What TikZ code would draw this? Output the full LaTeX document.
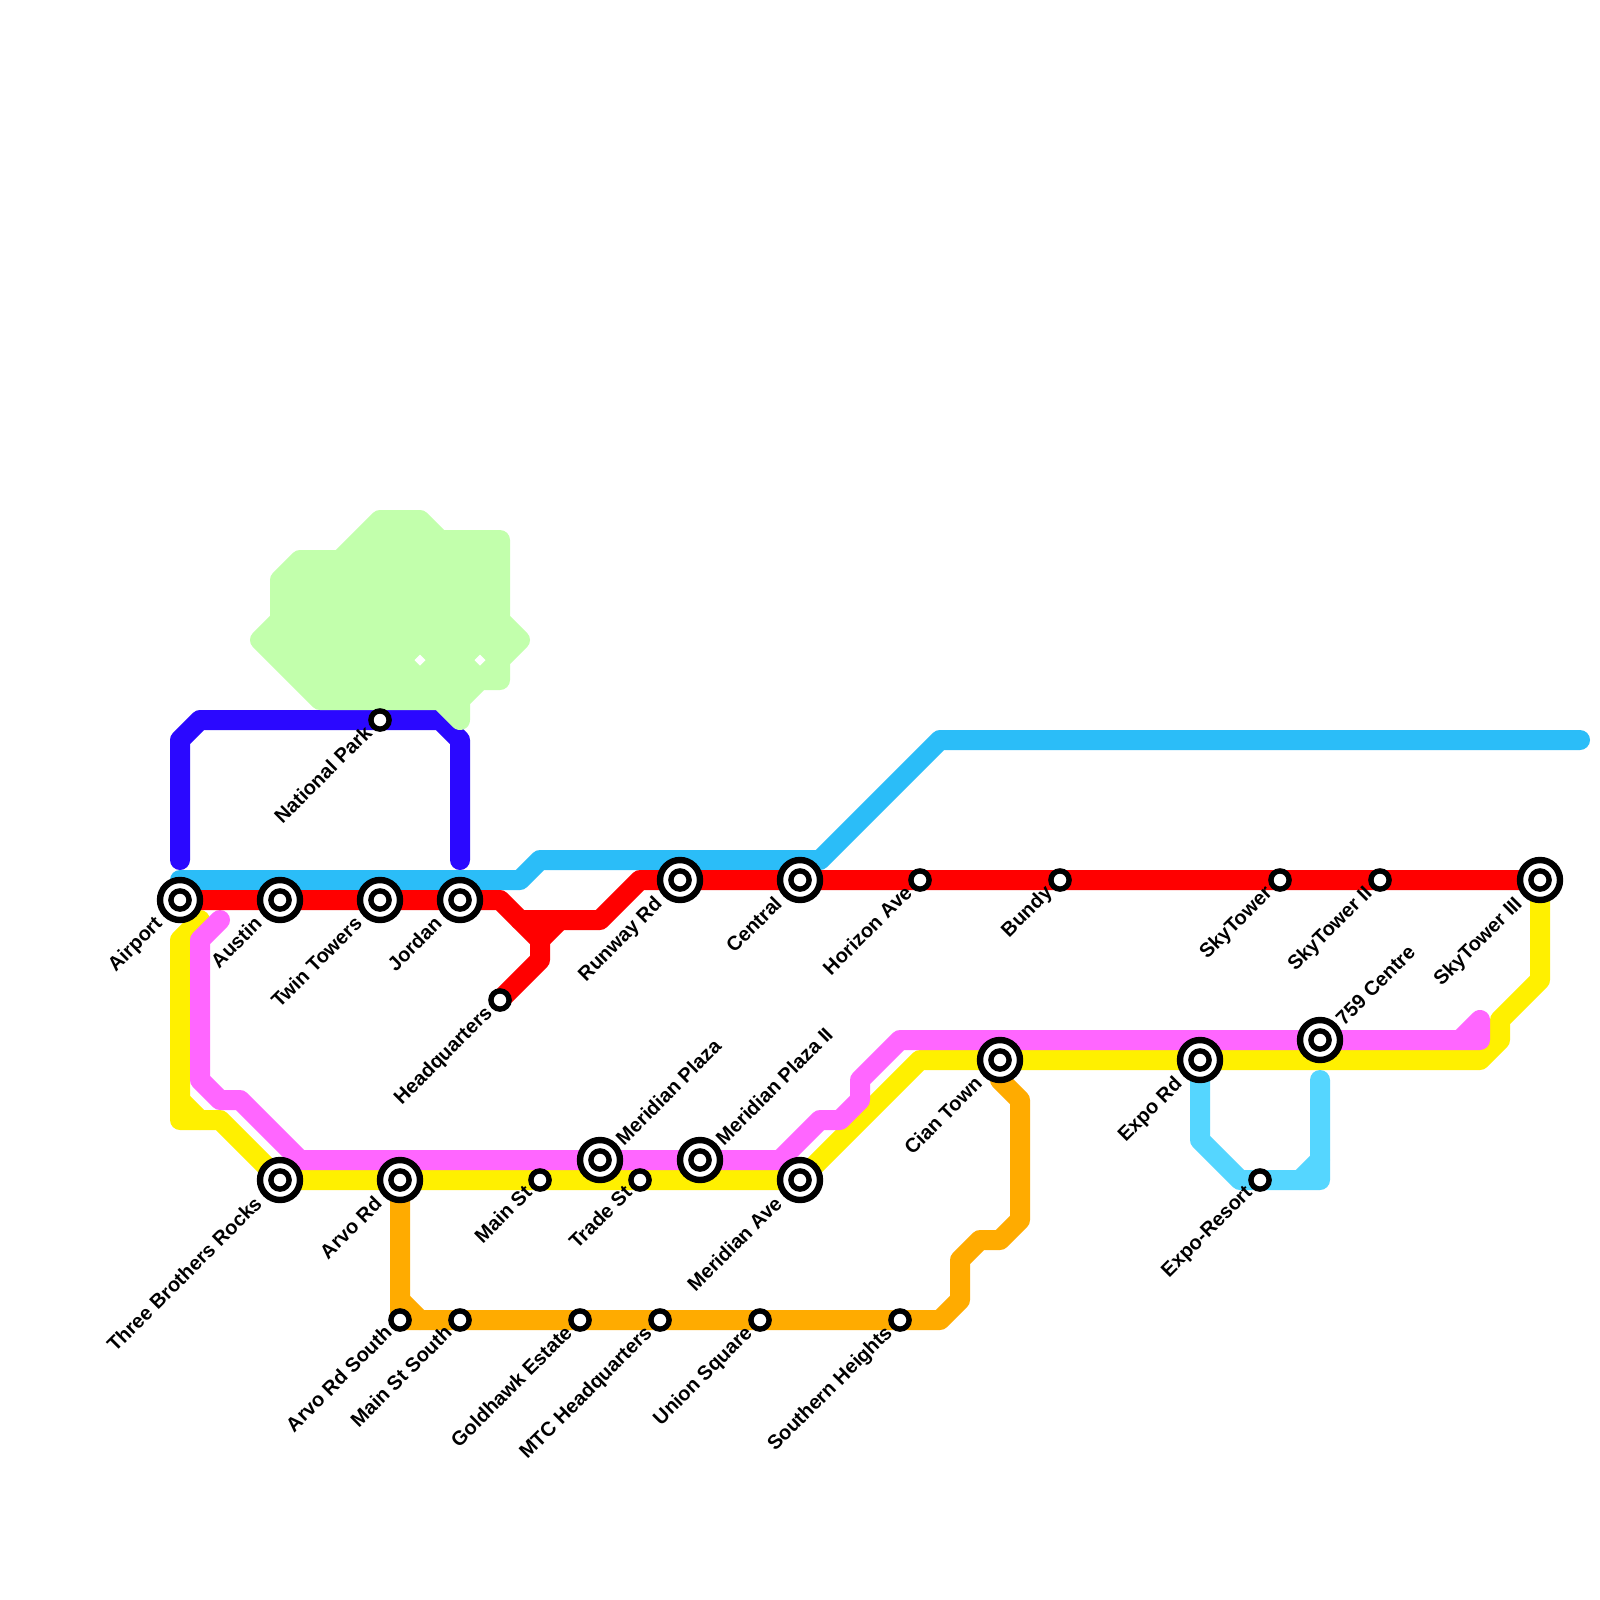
\documentclass[tikz,border=0pt]{standalone}
\usepackage{fontspec}
\setmainfont{Liberation Sans}
\definecolor{lred}{HTML}{FF0000}
\definecolor{lsky}{HTML}{2BBDF8}
\definecolor{lyellow}{HTML}{FFF000}
\definecolor{lpink}{HTML}{FF66FF}
\definecolor{lorange}{HTML}{FFAB00}
\definecolor{lblue}{HTML}{2B08FF}
\definecolor{lcyan}{HTML}{55D6FF}
\definecolor{lgreen}{HTML}{C2FFAC}
\tikzset{
  route/.style={line width=20pt,line cap=round,line join=round},
  park/.style={draw=lgreen,fill=lgreen,line width=20pt,line join=round},
  hole/.style={fill=white,draw=none},
  ringouter/.style={draw=black,fill=white,line width=6.4pt},
  ringinner/.style={draw=black,fill=white,line width=5.4pt},
  stnlabel/.style={font=\bfseries\fontsize{20pt}{22pt}\selectfont,text=black,inner sep=0pt,outer sep=0pt,rotate=45,text height=14.5pt,text depth=0pt},
  lsw/.style={stnlabel,anchor=east},
  lne/.style={stnlabel,anchor=west}
}
\newcommand{\stnBig}[1]{\path[ringouter] (#1) circle[radius=20pt]; \path[ringinner] (#1) circle[radius=9.1pt];}
\newcommand{\stnSmall}[1]{\path[ringinner] (#1) circle[radius=9.1pt];}
\begin{document}
\begin{tikzpicture}[x=1pt,y=-1pt]
\path[use as bounding box,fill=white] (0,0) rectangle (1600,1600);
% stations
\coordinate (airport) at (180,900);
\coordinate (austin) at (280,900);
\coordinate (twin) at (380,900);
\coordinate (jordan) at (460,900);
\coordinate (runway) at (680,880);
\coordinate (central) at (800,880);
\coordinate (sky3) at (1540,880);
\coordinate (three) at (280,1180);
\coordinate (arvo) at (400,1180);
\coordinate (mplaza) at (600,1160);
\coordinate (mplaza2) at (700,1160);
\coordinate (mave) at (800,1180);
\coordinate (cian) at (1000,1060);
\coordinate (expo) at (1200,1060);
\coordinate (c759) at (1320,1040);
\coordinate (natpark) at (380,720);
\coordinate (hq) at (500,1000);
\coordinate (mainst) at (540,1180);
\coordinate (trade) at (640,1180);
\coordinate (horizon) at (920,880);
\coordinate (bundy) at (1060,880);
\coordinate (sky1) at (1280,880);
\coordinate (sky2) at (1380,880);
\coordinate (arvos) at (400,1320);
\coordinate (mainsts) at (460,1320);
\coordinate (gold) at (580,1320);
\coordinate (mtc) at (660,1320);
\coordinate (union) at (760,1320);
\coordinate (south) at (900,1320);
\coordinate (resort) at (1260,1180);
% lines
\draw[route,lblue] (180,860) -- (180,740) -- (200,720) -- (natpark) -- (440,720) -- (460,740) -- (460,860);
% park
\path[park] (260,640) -- (280,620) -- (280,580) -- (300,560) -- (340,560) -- (380,520) -- (420,520) -- (440,540) -- (500,540) -- (500,620) -- (520,640) -- (500,660) -- (500,680) -- (480,680) -- (460,700) -- (460,720) -- (440,700) -- (320,700) -- cycle;
\fill[hole] (420,654.5) -- (425.5,660) -- (420,665.5) -- (414.5,660) -- cycle;
\fill[hole] (480,654.5) -- (485.5,660) -- (480,665.5) -- (474.5,660) -- cycle;
\draw[route,lsky] (180,880) -- (520,880) -- (540,860) -- (820,860) -- (940,740) -- (1580,740);
\draw[route,lyellow] (200,920) -- (180,940) -- (180,1120) -- (220,1120) -- (three) -- (arvo) -- (mainst) -- (trade) -- (mave) -- (920,1060) -- (cian) -- (expo) -- (1480,1060) -- (1500,1040) -- (1500,1020) -- (1540,980) -- (sky3);
\draw[route,lyellow] (180,1100) -- (200,1120);
\draw[route,lpink] (220,920) -- (200,940) -- (200,1080) -- (220,1100) -- (240,1100) -- (300,1160) -- (mplaza) -- (mplaza2) -- (780,1160) -- (820,1120) -- (840,1120) -- (860,1100) -- (860,1080) -- (900,1040) -- (c759) -- (1480,1040) -- (1480,1020) -- (1460,1040);
\draw[route,lred] (airport) -- (austin) -- (twin) -- (jordan) -- (500,900) -- (540,940) -- (540,960) -- (hq);
\draw[route,lred] (520,920) -- (600,920) -- (640,880) -- (runway) -- (central) -- (horizon) -- (bundy) -- (sky1) -- (sky2) -- (sky3);
\draw[route,lred] (540,940) -- (560,920);
\draw[route,lorange] (arvo) -- (arvos) -- (mainsts) -- (gold) -- (mtc) -- (union) -- (south) -- (940,1320) -- (960,1300) -- (960,1260) -- (980,1240) -- (1000,1240) -- (1020,1220) -- (1020,1100) -- (1000,1080) -- (cian);
\draw[route,lorange] (400,1300) -- (420,1320);
\draw[route,lcyan] (expo) -- (1200,1140) -- (1240,1180) -- (resort) -- (1320,1180) -- (1320,1080);
\draw[route,lcyan] (1300,1180) -- (1320,1160);
% station symbols
\stnBig{airport}\stnBig{austin}\stnBig{twin}\stnBig{jordan}\stnBig{runway}\stnBig{central}\stnBig{sky3}
\stnBig{three}\stnBig{arvo}\stnBig{mplaza}\stnBig{mplaza2}\stnBig{mave}\stnBig{cian}\stnBig{expo}\stnBig{c759}
\stnSmall{natpark}\stnSmall{hq}\stnSmall{mainst}\stnSmall{trade}\stnSmall{horizon}\stnSmall{bundy}\stnSmall{sky1}\stnSmall{sky2}
\stnSmall{arvos}\stnSmall{mainsts}\stnSmall{gold}\stnSmall{mtc}\stnSmall{union}\stnSmall{south}\stnSmall{resort}
% labels
\node[lsw] (t-airport) at ([shift={(-22,20)}]airport) {Airport};
\node[lsw] (t-austin) at ([shift={(-22,20)}]austin) {Austin};
\node[lsw] (t-twin) at ([shift={(-22,20)}]twin) {Twin Towers};
\node[lsw] (t-jordan) at ([shift={(-22,20)}]jordan) {Jordan};
\node[lsw] (t-runway) at ([shift={(-22,20)}]runway) {Runway Rd};
\node[lsw] (t-central) at ([shift={(-22,20)}]central) {Central};
\node[lsw] (t-sky3) at ([shift={(-22,20)}]sky3) {SkyTower III};
\node[lsw] (t-three) at ([shift={(-22,20)}]three) {Three Brothers Rocks};
\node[lsw] (t-arvo) at ([shift={(-22,20)}]arvo) {Arvo Rd};
\node[lsw] (t-mave) at ([shift={(-22,20)}]mave) {Meridian Ave};
\node[lsw] (t-cian) at ([shift={(-22,20)}]cian) {Cian Town};
\node[lsw] (t-expo) at ([shift={(-22,20)}]expo) {Expo Rd};
\node[lne] (t-mplaza) at ([shift={(19,-19)}]mplaza) {Meridian Plaza};
\node[lne] (t-mplaza2) at ([shift={(19,-19)}]mplaza2) {Meridian Plaza II};
\node[lne] (t-c759) at ([shift={(19,-19)}]c759) {759 Centre};
\node[lsw] (t-natpark) at ([shift={(-12,9)}]natpark) {National Park};
\node[lsw] (t-hq) at ([shift={(-12,9)}]hq) {Headquarters};
\node[lsw] (t-mainst) at ([shift={(-12,9)}]mainst) {Main St};
\node[lsw] (t-trade) at ([shift={(-12,9)}]trade) {Trade St};
\node[lsw] (t-horizon) at ([shift={(-12,9)}]horizon) {Horizon Ave};
\node[lsw] (t-bundy) at ([shift={(-12,9)}]bundy) {Bundy};
\node[lsw] (t-sky1) at ([shift={(-12,9)}]sky1) {SkyTower};
\node[lsw] (t-sky2) at ([shift={(-12,9)}]sky2) {SkyTower II};
\node[lsw] (t-arvos) at ([shift={(-12,9)}]arvos) {Arvo Rd South};
\node[lsw] (t-mainsts) at ([shift={(-12,9)}]mainsts) {Main St South};
\node[lsw] (t-gold) at ([shift={(-12,9)}]gold) {Goldhawk Estate};
\node[lsw] (t-mtc) at ([shift={(-12,9)}]mtc) {MTC Headquarters};
\node[lsw] (t-union) at ([shift={(-12,9)}]union) {Union Square};
\node[lsw] (t-south) at ([shift={(-12,9)}]south) {Southern Heights};
\node[lsw] (t-resort) at ([shift={(-12,9)}]resort) {Expo-Resort};
\end{tikzpicture}
\end{document}
